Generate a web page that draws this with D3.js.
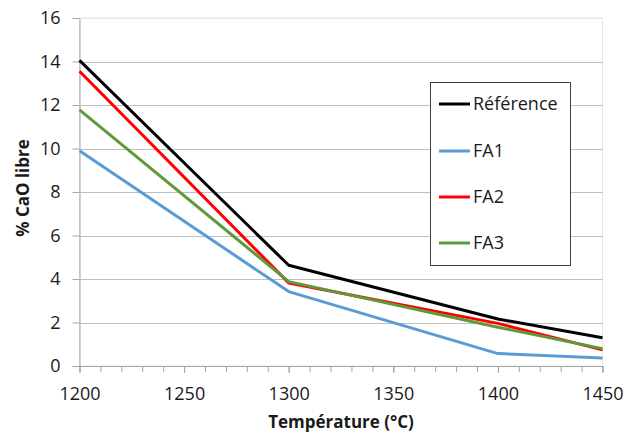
<!DOCTYPE html>
<html><head><meta charset="utf-8">
<script src="https://cdn.jsdelivr.net/npm/d3@7"></script>
<style>body{margin:0;background:#fff}svg{display:block}text{font-family:"Open Sans",sans-serif}</style>
</head><body><svg id="c" width="625" height="435"></svg>
<script>
const temperatures = [1200, 1300, 1400, 1450];
const seriesNames = ["Référence", "FA1", "FA2", "FA3"];
const reference = [14.05, 4.63, 2.16, 1.30];
const fa1 = [9.9, 3.42, 0.57, 0.37];
const fa2 = [13.55, 3.82, 1.96, 0.74];
const fa3 = [11.78, 3.88, 1.78, 0.80];
const seriesColors = ["#000000", "#5b9bd5", "#ff0000", "#5e9a3a"];
const yTicks = [0, 2, 4, 6, 8, 10, 12, 14, 16];
const xTicks = [1200, 1250, 1300, 1350, 1400, 1450];
const xTitle = "Température (°C)";
const yTitle = "% CaO libre";

const svg = d3.select("#c");
const L = 79.5, R = 602.5, T = 18, B = 366;
const x = d3.scaleLinear().domain([1200, 1450]).range([L, R]);
const y = d3.scaleLinear().domain([0, 16]).range([B, T]);

svg.append("rect").attr("x", L).attr("y", T).attr("width", R - L).attr("height", B - T)
  .attr("fill", "none").attr("stroke", "#e6e6e6").attr("stroke-width", 1);

const yAxis = d3.axisLeft(y).tickValues(yTicks).tickSize(7).tickFormat(d3.format("d")).tickPadding(12);
const gy = svg.append("g").attr("transform", `translate(${L},0)`).call(yAxis);
gy.select(".domain").attr("stroke", "#a6a6a6");
gy.selectAll(".tick line").attr("stroke", "#a6a6a6");
gy.selectAll(".tick text").attr("font-size", 18).attr("fill", "#1a1a1a").attr("font-family", "Open Sans");
svg.append("g").selectAll("line").data(yTicks.filter(d => d > 0)).join("line")
  .attr("x1", L).attr("x2", R).attr("y1", d => Math.round(y(d)) + 0.5).attr("y2", d => Math.round(y(d)) + 0.5)
  .attr("stroke", d => d === 16 ? "#e6e6e6" : "#bfbfbf").attr("stroke-width", 1);

const minor = d3.range(1200, 1451, 10);
const xAxisMinor = d3.axisBottom(x).tickValues(minor).tickSize(6).tickFormat("");
const gxm = svg.append("g").attr("transform", `translate(0,${B})`).call(xAxisMinor);
gxm.select(".domain").attr("stroke", "#a6a6a6");
gxm.selectAll(".tick line").attr("stroke", "#a6a6a6");
const xAxis = d3.axisBottom(x).tickValues(xTicks).tickSize(7).tickFormat(d3.format("d")).tickPadding(14);
const gx = svg.append("g").attr("transform", `translate(0,${B})`).call(xAxis);
gx.select(".domain").remove();
gx.selectAll(".tick line").attr("stroke", "#a6a6a6");
gx.selectAll(".tick text").attr("font-size", 18).attr("fill", "#1a1a1a").attr("font-family", "Open Sans");

const allSeries = [reference, fa1, fa2, fa3];
const line = d3.line().x((d, i) => x(temperatures[i])).y(d => y(d));
[1, 2, 3, 0].forEach(k => {
  svg.append("path").datum(allSeries[k]).attr("d", line)
    .attr("fill", "none").attr("stroke", seriesColors[k]).attr("stroke-width", 3)
    .attr("stroke-linejoin", "round");
});

const lg = svg.append("g");
lg.append("rect").attr("x", 430.5).attr("y", 82.5).attr("width", 140).attr("height", 183)
  .attr("fill", "#fff").attr("stroke", "#404040").attr("stroke-width", 1);
const ly = [104, 151, 197, 243];
seriesNames.forEach((n, i) => {
  lg.append("line").attr("x1", 439).attr("x2", 470).attr("y1", ly[i]).attr("y2", ly[i])
    .attr("stroke", seriesColors[i]).attr("stroke-width", 3);
  lg.append("text").attr("x", 473).attr("y", ly[i]).attr("dy", "0.35em")
    .attr("font-size", 18).attr("fill", "#1a1a1a").text(n);
});

svg.append("text").attr("x", 341).attr("y", 428).attr("text-anchor", "middle")
  .attr("font-size", 17).attr("font-weight", "bold").attr("fill", "#1a1a1a").text(xTitle);
svg.append("text").attr("transform", "translate(29,188) rotate(-90)").attr("text-anchor", "middle")
  .attr("font-size", 17).attr("font-weight", "bold").attr("fill", "#1a1a1a").text(yTitle);
</script></body></html>
